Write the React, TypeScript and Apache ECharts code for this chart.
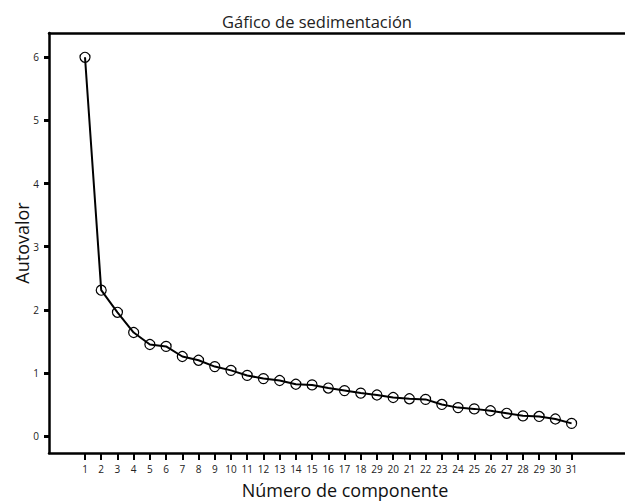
import React, { useEffect, useRef } from "react";
import * as echarts from "echarts";

const components = [1, 2, 3, 4, 5, 6, 7, 8, 9, 10, 11, 12, 13, 14, 15, 16, 17, 18, 19, 20, 21, 22, 23, 24, 25, 26, 27, 28, 29, 30, 31];
const tickLabels = ["1", "2", "3", "4", "5", "6", "7", "8", "9", "10", "11", "12", "13", "14", "15", "16", "17", "18", "29", "20", "21", "22", "23", "24", "25", "26", "27", "28", "29", "30", "31"];
const eigenvalues = [6.0, 2.31, 1.96, 1.64, 1.45, 1.42, 1.26, 1.2, 1.1, 1.04, 0.96, 0.91, 0.88, 0.82, 0.81, 0.76, 0.72, 0.68, 0.65, 0.61, 0.59, 0.58, 0.5, 0.45, 0.43, 0.4, 0.36, 0.32, 0.31, 0.27, 0.2];
const yTicks = [0, 1, 2, 3, 4, 5, 6];

const FONT = "'Open Sans', 'Noto Sans', sans-serif";
const X_MIN = -1.2195;
const X_MAX = 35.28;

export default function App() {
  const ref = useRef<HTMLDivElement>(null);
  useEffect(() => {
    if (!ref.current) return;
    const chart = echarts.init(ref.current, null, { renderer: "svg" });
    chart.setOption({
      animation: false,
      backgroundColor: "#fff",
      title: {
        text: "Gáfico de sedimentación",
        left: 312,
        top: 8,
        textAlign: "center",
        textStyle: { fontFamily: FONT, fontSize: 16.5, fontWeight: "normal", color: "#222" },
      },
      grid: {
        left: 49,
        top: 33,
        width: 592,
        height: 420,
        show: false,
        containLabel: false,
        outerBoundsMode: "none",
      },
      xAxis: [
        {
          type: "value",
          min: X_MIN,
          max: X_MAX,
          name: "Número de componente",
          nameLocation: "middle",
          nameGap: 28,
          nameTextStyle: { fontFamily: FONT, fontSize: 18, color: "#111" },
          splitLine: { show: false },
          axisLine: { show: true, onZero: false, lineStyle: { color: "#000", width: 2.5 } },
          axisTick: {
            show: true,
            length: 7,
            lineStyle: { color: "#000", width: 2 },
            customValues: components,
          },
          axisLabel: {
            customValues: components,
            margin: 11,
            fontFamily: FONT,
            fontSize: 10,
            color: "#222",
            formatter: (v: number) => tickLabels[Math.round(v) - 1] ?? "",
          },
        },
        {
          type: "value",
          position: "top",
          min: X_MIN,
          max: X_MAX,
          splitLine: { show: false },
          axisLine: { show: true, onZero: false, lineStyle: { color: "#000", width: 2.5 } },
          axisTick: { show: false },
          axisLabel: { show: false },
        },
      ],
      yAxis: {
        type: "value",
        min: -0.269,
        max: 6.385,
        name: "Autovalor",
        nameLocation: "middle",
        nameGap: 18,
        nameMoveOverlap: false,
        nameTextStyle: { fontFamily: FONT, fontSize: 18, color: "#111" },
        splitLine: { show: false },
        axisLine: { show: true, onZero: false, lineStyle: { color: "#000", width: 2.5 } },
        axisTick: {
          show: true,
          length: 5,
          lineStyle: { color: "#000", width: 3 },
          customValues: yTicks,
        },
        axisLabel: {
          customValues: yTicks,
          margin: 10,
          fontFamily: FONT,
          fontSize: 10,
          color: "#222",
        },
      },
      series: [
        {
          type: "line",
          xAxisIndex: 0,
          data: components.map((c, i) => [c, eigenvalues[i]]),
          symbol: "circle",
          symbolSize: 10,
          lineStyle: { color: "#000", width: 2 },
          itemStyle: { color: "rgba(0,0,0,0)", borderColor: "#000", borderWidth: 1.2 },
          z: 3,
        },
      ],
    });
    return () => chart.dispose();
  }, []);
  return (
    <div
      ref={ref}
      style={{ position: "fixed", left: 0, top: 0, width: 625, height: 501, overflow: "hidden" }}
    />
  );
}
